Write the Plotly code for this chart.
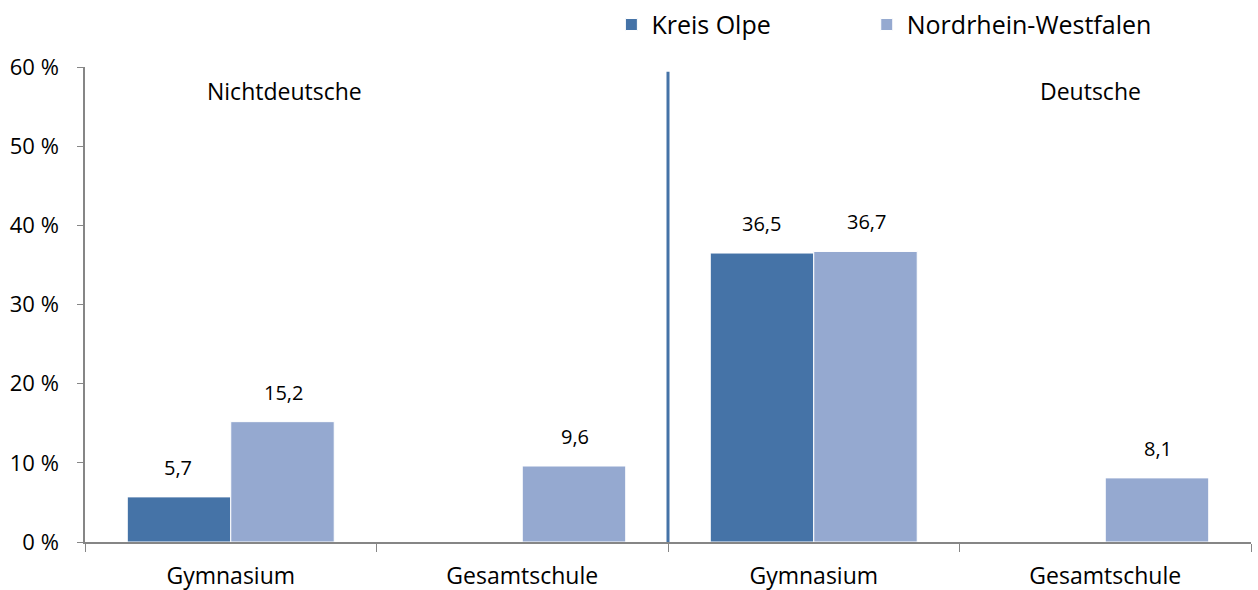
import plotly.graph_objects as go

categories = ["Gymnasium", "Gesamtschule", "Gymnasium", "Gesamtschule"]
kreis_olpe = [5.7, None, 36.5, None]
nrw = [15.2, 9.6, 36.7, 8.1]
group_labels = ["Nichtdeutsche", "Deutsche"]
y_ticks = [0, 10, 20, 30, 40, 50, 60]
y_ticktext = [f"{v} %" for v in y_ticks]

dark = "#4573a7"
light = "#95a9d0"
axis_col = "#868686"
font_family = "'Open Sans', Lato, sans-serif"

xpos = list(range(len(categories)))

fig = go.Figure()
fig.add_trace(go.Bar(x=xpos, y=kreis_olpe, name="Kreis Olpe", legend="legend", showlegend=True,
                     marker=dict(color=dark, line=dict(color="white", width=1))))
fig.add_trace(go.Bar(x=xpos, y=nrw, name="Nordrhein-Westfalen", legend="legend2", showlegend=True,
                     marker=dict(color=light, line=dict(color="white", width=1))))

def fmt(v):
    return f"{v:.1f}".replace(".", ",")

annotations = []
for off, series in ((-0.18, kreis_olpe), (0.18, nrw)):
    for x, v in zip(xpos, series):
        if v is None:
            continue
        annotations.append(dict(x=x + off, y=v, text=fmt(v), showarrow=False,
                                yanchor="bottom", yshift=14,
                                font=dict(size=20, color="#000000", family=font_family)))

annotations.append(dict(x=0.183, y=57.0, text=group_labels[0], showarrow=False,
                        font=dict(size=23, color="#000000", family=font_family)))
annotations.append(dict(x=2.95, y=57.0, text=group_labels[1], showarrow=False,
                        font=dict(size=23, color="#000000", family=font_family)))

legend_common = dict(orientation="h", xanchor="left", yanchor="middle",
                     xref="container", yref="container", y=0.958, visible=True,
                     font=dict(size=25, family=font_family), itemwidth=30,
                     bgcolor="rgba(0,0,0,0)")

fig.update_layout(
    showlegend=True,
    barmode="group",
    bargap=0.29,
    bargroupgap=0.0,
    width=1258, height=590,
    margin=dict(l=85, r=7, t=67, b=48, autoexpand=False),
    plot_bgcolor="white", paper_bgcolor="white",
    font=dict(family=font_family, size=22, color="#000000"),
    annotations=annotations,
    legend=dict(x=0.486, **legend_common),
    legend2=dict(x=0.689, **legend_common),
    shapes=[dict(type="line", xref="x", yref="y", x0=1.5, x1=1.5, y0=-4.8, y1=59.4,
                 line=dict(color=dark, width=3))],
)
fig.update_xaxes(range=[-0.5, 3.5], tickvals=xpos, ticktext=categories, ticks="",
                 showline=True, linecolor=axis_col, linewidth=1.5, showgrid=False, zeroline=False,
                 tickfont=dict(size=23), ticklabelstandoff=13, automargin=False,
                 minor=dict(tick0=-0.5, dtick=1, ticks="outside", ticklen=8, tickcolor=axis_col,
                            showgrid=False))
fig.update_yaxes(range=[0, 60], tickvals=y_ticks, ticktext=y_ticktext, ticks="outside",
                 ticklen=6, tickcolor=axis_col, showline=True, linecolor=axis_col, linewidth=1.5,
                 showgrid=False, zeroline=False, tickfont=dict(size=22), ticklabelstandoff=14,
                 automargin=False)

fig.write_html("out.html", config={"displayModeBar": False})

with open("out.html", "r", encoding="utf-8") as f:
    html = f.read()
html = html.replace("<head>", "<head><style>html,body{margin:0;padding:0;}</style>", 1)
with open("out.html", "w", encoding="utf-8") as f:
    f.write(html)
